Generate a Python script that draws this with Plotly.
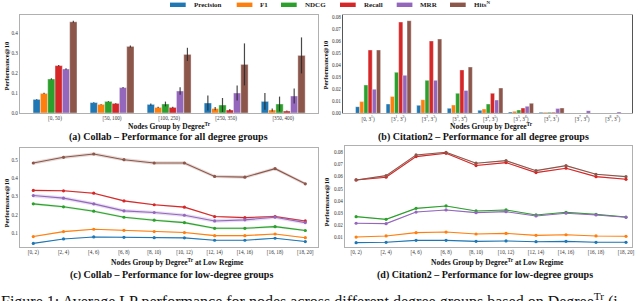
import plotly.graph_objects as go

W, H = 640, 301
SERIF = "Liberation Serif"

metrics = ["Precision", "F1", "NDCG", "Recall", "MRR", "Hits<sup>N</sup>"]
colors = ["#1f77b4", "#ff7f0e", "#2ca02c", "#d62728", "#9467bd", "#8c564b"]

# (a) Collab - all degree groups
a_groups = ["[0, 50)", "[50, 100)", "[100, 250)", "[250, 350)", "[350, 400)"]
a_precision = [0.068, 0.052, 0.043, 0.050, 0.058]
a_f1 = [0.098, 0.043, 0.028, 0.022, 0.015]
a_ndcg = [0.170, 0.058, 0.045, 0.040, 0.045]
a_recall = [0.237, 0.048, 0.028, 0.015, 0.010]
a_mrr = [0.220, 0.127, 0.110, 0.100, 0.085]
a_hits = [0.456, 0.333, 0.293, 0.243, 0.288]
a_precision_err = [0.002, 0.002, 0.005, 0.037, 0.042]
a_f1_err = [0.003, 0.002, 0.003, 0.008, 0.008]
a_ndcg_err = [0.004, 0.002, 0.012, 0.035, 0.037]
a_recall_err = [0.003, 0.002, 0.003, 0.005, 0.003]
a_mrr_err = [0.004, 0.003, 0.019, 0.038, 0.038]
a_hits_err = [0.005, 0.005, 0.033, 0.105, 0.09]

# (b) Citation2 - all degree groups
b_groups = ["[0, 3<sup>1</sup>)"] + [f"[3<sup>{i}</sup>, 3<sup>{i+1}</sup>)" for i in range(1, 9)]
b_precision = [0.0055, 0.0077, 0.0066, 0.0041, 0.0025, 0.0010, 0.0008, 0.0, 0.0]
b_f1 = [0.0097, 0.0140, 0.0113, 0.0069, 0.0036, 0.0017, 0.0008, 0.0, 0.0]
b_ndcg = [0.0235, 0.0340, 0.0273, 0.0166, 0.0077, 0.0028, 0.0008, 0.0, 0.0]
b_recall = [0.0525, 0.0757, 0.0600, 0.0360, 0.0166, 0.0044, 0.0008, 0.0, 0.0003]
b_mrr = [0.0200, 0.0315, 0.0273, 0.0190, 0.0110, 0.0058, 0.0039, 0.0022, 0.0011]
b_hits = [0.0525, 0.0768, 0.0616, 0.0384, 0.0210, 0.0083, 0.0044, 0.0, 0.0]

# (c) Collab - low degree groups
c_groups = ["[0, 2)", "[2, 4)", "[4, 6)", "[6, 8)", "[8, 10)", "[10, 12)",
            "[12, 14)", "[14, 16)", "[16, 18)", "[18, 20]"]
c_precision = [0.045, 0.069, 0.080, 0.078, 0.076, 0.075, 0.062, 0.062, 0.073, 0.055]
c_f1 = [0.082, 0.109, 0.122, 0.116, 0.109, 0.104, 0.087, 0.087, 0.096, 0.076]
c_ndcg = [0.260, 0.244, 0.220, 0.187, 0.171, 0.158, 0.127, 0.127, 0.136, 0.115]
c_recall = [0.333, 0.331, 0.318, 0.276, 0.255, 0.242, 0.191, 0.185, 0.191, 0.167]
c_mrr = [0.305, 0.291, 0.260, 0.222, 0.213, 0.198, 0.167, 0.173, 0.187, 0.158]
c_hits = [0.482, 0.513, 0.531, 0.500, 0.482, 0.482, 0.409, 0.405, 0.451, 0.369]
c_band = [0.002, 0.003, 0.006, 0.004, 0.010, 0.009]

# (d) Citation2 - low degree groups
d_groups = c_groups
d_precision = [0.0059, 0.0062, 0.0078, 0.0078, 0.0070, 0.0073, 0.0067, 0.0070, 0.0062, 0.0062]
d_f1 = [0.0105, 0.0114, 0.0141, 0.0146, 0.0130, 0.0135, 0.0119, 0.0124, 0.0114, 0.0111]
d_ndcg = [0.0272, 0.0250, 0.0340, 0.0360, 0.0319, 0.0327, 0.0286, 0.0308, 0.0291, 0.0269]
d_recall = [0.0573, 0.0595, 0.0764, 0.0791, 0.0691, 0.0715, 0.0633, 0.0669, 0.0600, 0.0578]
d_mrr = [0.0218, 0.0215, 0.0310, 0.0327, 0.0305, 0.0313, 0.0278, 0.0300, 0.0286, 0.0267]
d_hits = [0.0573, 0.0608, 0.0778, 0.0800, 0.0710, 0.0731, 0.0649, 0.0690, 0.0619, 0.0600]
d_band = [0.0002, 0.0002, 0.0003, 0.0004, 0.0003, 0.0004]


def px(x):
    return x / W


def py(y):
    return 1 - y / H


fig = go.Figure()

a_series = [a_precision, a_f1, a_ndcg, a_recall, a_mrr, a_hits]
a_errs = [a_precision_err, a_f1_err, a_ndcg_err, a_recall_err, a_mrr_err, a_hits_err]
b_series = [b_precision, b_f1, b_ndcg, b_recall, b_mrr, b_hits]
c_series = [c_precision, c_f1, c_ndcg, c_recall, c_mrr, c_hits]
d_series = [d_precision, d_f1, d_ndcg, d_recall, d_mrr, d_hits]

# (a) bars
wa = 0.77 / 6
for k, (vals, errs) in enumerate(zip(a_series, a_errs)):
    fig.add_trace(go.Bar(
        x=a_groups, y=vals, width=wa, offset=-0.385 + k * wa,
        marker=dict(color=colors[k], line=dict(color="white", width=0.4)),
        error_y=dict(type="data", array=errs, color="rgba(40,40,40,0.85)",
                     thickness=1.2, width=0),
        xaxis="x", yaxis="y", showlegend=False, name=metrics[k]))

# (b) bars
wb = 0.82 / 6
for k, vals in enumerate(b_series):
    fig.add_trace(go.Bar(
        x=b_groups, y=vals, width=wb, offset=-0.41 + k * wb,
        marker=dict(color=colors[k], line=dict(color="white", width=0.4)),
        xaxis="x2", yaxis="y2", showlegend=False, name=metrics[k]))


def rgba(hexc, a):
    h = hexc.lstrip("#")
    r, g, b = int(h[0:2], 16), int(h[2:4], 16), int(h[4:6], 16)
    return f"rgba({r},{g},{b},{a})"


def add_lines(groups, series, bands, xa, ya):
    for k, vals in enumerate(series):
        lo = [v - bands[k] for v in vals]
        hi = [v + bands[k] for v in vals]
        fig.add_trace(go.Scatter(x=groups, y=lo, mode="lines", line=dict(width=0),
                                 xaxis=xa, yaxis=ya, showlegend=False, hoverinfo="skip"))
        fig.add_trace(go.Scatter(x=groups, y=hi, mode="lines", line=dict(width=0),
                                 fill="tonexty", fillcolor=rgba(colors[k], 0.22),
                                 xaxis=xa, yaxis=ya, showlegend=False, hoverinfo="skip"))
        fig.add_trace(go.Scatter(x=groups, y=vals, mode="lines+markers",
                                 line=dict(color=colors[k], width=1.1),
                                 marker=dict(color=colors[k], size=3.2),
                                 xaxis=xa, yaxis=ya, showlegend=False, name=metrics[k]))


add_lines(c_groups, c_series, c_band, "x3", "y3")
add_lines(d_groups, d_series, d_band, "x4", "y4")

tickfont = dict(family=SERIF, size=5.2, color="#333")
axcommon = dict(showgrid=False, zeroline=False, showline=True, mirror=True,
                linecolor="#b0b0b0", linewidth=1, ticks="", tickfont=tickfont,
                automargin=False)

fig.update_layout(
    width=W, height=H, template="none",
    margin=dict(l=0, r=0, t=0, b=0),
    paper_bgcolor="white", plot_bgcolor="white",
    barmode="overlay",
    xaxis=dict(domain=[px(20), px(318)], range=[-0.614, 4.61], type="category",
               anchor="y", **axcommon),
    yaxis=dict(domain=[py(113), py(15)], range=[0, 0.49], dtick=0.1, tickformat=".1f",
               anchor="x", **axcommon),
    xaxis2=dict(domain=[px(343), px(632)], range=[-0.82, 8.63], type="category",
                anchor="y2", **axcommon),
    yaxis2=dict(domain=[py(113.3), py(15)], range=[0, 0.0815], dtick=0.01, tickformat=".2f",
                anchor="x2", **axcommon),
    xaxis3=dict(domain=[px(20), px(318)], range=[-0.44, 9.42], type="category",
                anchor="y3", **axcommon),
    yaxis3=dict(domain=[py(246.7), py(148)], range=[0.027, 0.5636], dtick=0.1, tickformat=".1f",
                anchor="x3", **axcommon),
    xaxis4=dict(domain=[px(345), px(632)], range=[-0.37, 9.2], type="category",
                anchor="y4", **axcommon),
    yaxis4=dict(domain=[py(246.7), py(146)], range=[0.0026, 0.0851], dtick=0.01, tickformat=".2f",
                anchor="x4", **axcommon),
)
fig.update_yaxes(linecolor="#555", selector=dict(anchor="x2"))

# manual legend
sw_x = [170, 236.7, 281, 340, 396.7, 450]
for k, x0 in enumerate(sw_x):
    fig.add_shape(type="rect", xref="paper", yref="paper",
                  x0=px(x0), x1=px(x0 + 15.7), y0=py(7), y1=py(2.6),
                  fillcolor=colors[k], line=dict(width=0))
    fig.add_annotation(xref="paper", yref="paper", x=px(x0 + 21.5), y=py(5),
                       xanchor="left", yanchor="middle", text=metrics[k], showarrow=False,
                       font=dict(family=SERIF, size=7, color="#222", weight="bold"))

bold = lambda s: dict(family=SERIF, size=s, color="#111", weight="bold")

xtitles = [(169, 126, "Nodes Group by Degree<sup>Tr</sup>"),
           (491, 126, "Nodes Group by Degree<sup>Tr</sup>"),
           (177, 262, "Nodes Group by Degree<sup>Tr</sup> at Low Regime"),
           (497, 262, "Nodes Group by Degree<sup>Tr</sup> at Low Regime")]
for x, y, t in xtitles:
    fig.add_annotation(xref="paper", yref="paper", x=px(x), y=py(y), text=t,
                       showarrow=False, xanchor="center", yanchor="middle", font=bold(7.5))

ytitles = [(5.5, 66), (325.5, 65), (5.5, 203), (325.5, 202)]
for x, y in ytitles:
    fig.add_annotation(xref="paper", yref="paper", x=px(x), y=py(y), text="Performance@10",
                       textangle=-90, showarrow=False, xanchor="center", yanchor="middle",
                       font=bold(6.5))

captions = [(168, 137, "(a) Collab – Performance for all degree groups"),
            (483, 137, "(b) Citation2 – Performance for all degree groups"),
            (171, 275, "(c) Collab – Performance for low-degree groups"),
            (485, 275, "(d) Citation2 – Performance for low-degree groups")]
for x, y, t in captions:
    fig.add_annotation(xref="paper", yref="paper", x=px(x), y=py(y), text=t,
                       showarrow=False, xanchor="center", yanchor="middle", font=bold(10))

fig.add_annotation(xref="paper", yref="paper", x=px(-1), y=py(288), xanchor="left", yanchor="top",
                   text="Figure 1: Average LP performance for nodes across different degree groups based on Degree<sup>Tr</sup> (i",
                   showarrow=False, font=dict(family=SERIF, size=16, color="#111"))

fig.write_html("out.html", config={"displayModeBar": False},
               post_script="document.body.style.margin='0';document.body.style.overflow='hidden';")
